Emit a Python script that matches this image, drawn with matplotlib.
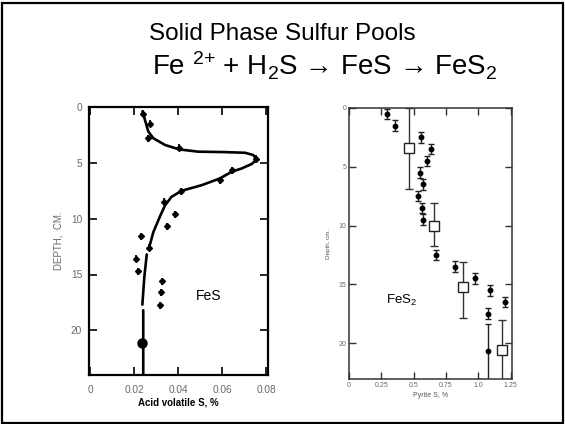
import numpy as np
import matplotlib
matplotlib.use("Agg")
import matplotlib.pyplot as plt
from matplotlib.patches import Rectangle

plt.rcParams['font.family'] = ['Liberation Sans', 'DejaVu Sans']
plt.rcParams['mathtext.fontset'] = 'custom'
plt.rcParams['mathtext.rm'] = 'Liberation Sans'
plt.rcParams['mathtext.default'] = 'regular'

# ---------------- data: left panel (FeS, acid volatile S) ----------------
fes_x = [0.024, 0.0274, 0.0265, 0.0406, 0.0755, 0.0644, 0.059, 0.0414, 0.0338,
         0.0386, 0.035, 0.023, 0.027, 0.0209, 0.022, 0.0327, 0.0323, 0.032]
fes_depth = [0.6, 1.5, 2.8, 3.65, 4.66, 5.65, 6.55, 7.53, 8.5,
             9.6, 10.67, 11.57, 12.6, 13.6, 14.7, 15.6, 16.6, 17.76]
fes_big_x = [0.0238]
fes_big_depth = [21.1]
curve_x = [0.0238, 0.0245, 0.025, 0.0265, 0.0288, 0.0341, 0.0406, 0.0492, 0.0614,
           0.0705, 0.0742, 0.0758, 0.0735, 0.069, 0.0644, 0.059, 0.0508, 0.0417,
           0.0371, 0.0341, 0.0318, 0.0288, 0.027, np.nan,
           0.0258, 0.0247, 0.0238, np.nan, 0.0242, 0.0242]
curve_depth = [0.4, 0.8, 1.17, 2.2, 2.8, 3.4, 3.8, 4.0, 4.04,
               4.1, 4.3, 4.7, 5.1, 5.5, 5.8, 6.4, 7.0, 7.5,
               8.04, 8.8, 9.8, 11.2, 12.5, np.nan,
               13.2, 15.2, 17.7, np.nan, 18.2, 24.0]
fes_xticks = [0, 0.02, 0.04, 0.06, 0.08]
fes_xticklabels = ['0', '0.02', '0.04', '0.06', '0.08']
fes_yticks = [0, 5, 10, 15, 20]
fes_yticklabels = ['0', '5', '10', '15', '20']

# ---------------- data: right panel (FeS2, pyrite S) ----------------
pyr_x = [0.293, 0.354, 0.553, 0.635, 0.604, 0.548, 0.573, 0.535, 0.563,
         0.573, 0.675, 0.823, 0.976, 1.09, 1.205, 1.073, 1.073]
pyr_depth = [0.5, 1.5, 2.5, 3.5, 4.5, 5.5, 6.5, 7.5, 8.5,
             9.5, 12.5, 13.5, 14.5, 15.5, 16.5, 17.5, 20.7]
pyr_err_up = [0.45] * 16 + [2.3]
pyr_err_down = [0.45] * 16 + [3.0]
sq_x = [0.466, 0.657, 0.879, 1.18]
sq_depth = [3.4, 10.0, 15.2, 20.6]
sq_err_up = [3.4, 1.9, 2.1, 2.6]
sq_err_down = [3.45, 1.7, 2.7, 3.0]
pyr_xticks = [0, 0.25, 0.5, 0.75, 1.0, 1.25]
pyr_xticklabels = ['0', '0.25', '0.5', '0.75', '1.0', '1.25']
pyr_yticks = [0, 5, 10, 15, 20]
pyr_yticklabels = ['0', '5', '10', '15', '20']

W, H = 565, 424
fig = plt.figure(figsize=(W / 100, H / 100), dpi=100)
fig.patch.set_facecolor('white')

def ax_rect(l, t, r, b):
    return [l / W, 1 - b / H, (r - l) / W, (b - t) / H]

# slide frame
fig.add_artist(Rectangle((1.5 / W, 1.5 / H), (W - 4) / W, (H - 4) / H,
                         transform=fig.transFigure, fill=False,
                         edgecolor='black', linewidth=1.6))

# title
fig.text(282 / W, 1 - 40 / H, 'Solid Phase Sulfur Pools', ha='center',
         va='baseline', fontsize=17.5, color='black')
fig.text(152 / W, 1 - 75 / H,
         'Fe $^{2{+}}$ + H$_2$S \u2192 FeS \u2192 FeS$_2$',
         ha='left', va='baseline', fontsize=20, color='black')

gray = '#6a6a6a'

# ---------- left panel ----------
ax1 = fig.add_axes(ax_rect(89, 107, 268, 375))
ax1.plot(curve_x, curve_depth, color='black', lw=1.9, solid_capstyle='round')
ax1.errorbar(fes_x, fes_depth, yerr=0.32, fmt='D', ms=3, color='black',
             elinewidth=1.3, capsize=0)
ax1.plot(fes_big_x, fes_big_depth, 'o', ms=6.5, color='black')
ax1.set_xlim(-0.00045, 0.0809)
ax1.set_ylim(24, 0)
ax1.set_xticks(fes_xticks)
ax1.set_xticklabels(fes_xticklabels)
ax1.set_yticks(fes_yticks)
ax1.set_yticklabels(fes_yticklabels)
ax1.tick_params(direction='in', length=6, width=1.2, top=True, right=True,
                labelsize=7.3, labelcolor=gray, colors='black')
ax1.tick_params(axis='x', pad=7)
ax1.tick_params(axis='y', pad=5)
for s in ax1.spines.values():
    s.set_linewidth(1.6)
ax1.set_xlabel('Acid volatile S, %', fontsize=7, fontweight='bold',
               labelpad=2)
ax1.set_ylabel('DEPTH,  CM.', fontsize=7, color=gray, labelpad=5)
ax1.text(0.054, 16.9, 'FeS', fontsize=10, ha='center', va='center')

# ---------- right panel ----------
ax2 = fig.add_axes(ax_rect(349, 108, 512, 379))
ax2.errorbar(sq_x, sq_depth, yerr=[sq_err_up, sq_err_down], fmt='s', ms=6.5,
             mfc='white', mec='#222222', mew=1.0, ecolor='#333333',
             elinewidth=1.0, capsize=3)
ax2.errorbar(pyr_x, pyr_depth, yerr=[pyr_err_up, pyr_err_down], fmt='o',
             ms=3.2, color='black', ecolor='#222222', elinewidth=1.0,
             capsize=2.2)
ax2.set_xlim(0, 1.26)
ax2.set_ylim(23.05, 0)
ax2.set_xticks(pyr_xticks)
ax2.set_xticklabels(pyr_xticklabels)
ax2.set_yticks(pyr_yticks)
ax2.set_yticklabels(pyr_yticklabels)
ax2.tick_params(direction='in', length=5, width=1.0, top=True, right=True,
                labelsize=5, labelcolor=gray, colors='#333333', pad=2)
for s in ax2.spines.values():
    s.set_linewidth(1.1)
    s.set_color('#333333')
ax2.set_xlabel('Pyrite S, %', fontsize=5, color='#555555', labelpad=2)
ax2.set_ylabel('Depth, cm.', fontsize=4.5, color='#555555', labelpad=5)
ax2.text(0.286, 16.4, 'FeS$_2$', fontsize=9.5, ha='left', va='center')

fig.savefig('out.png', dpi=100)
